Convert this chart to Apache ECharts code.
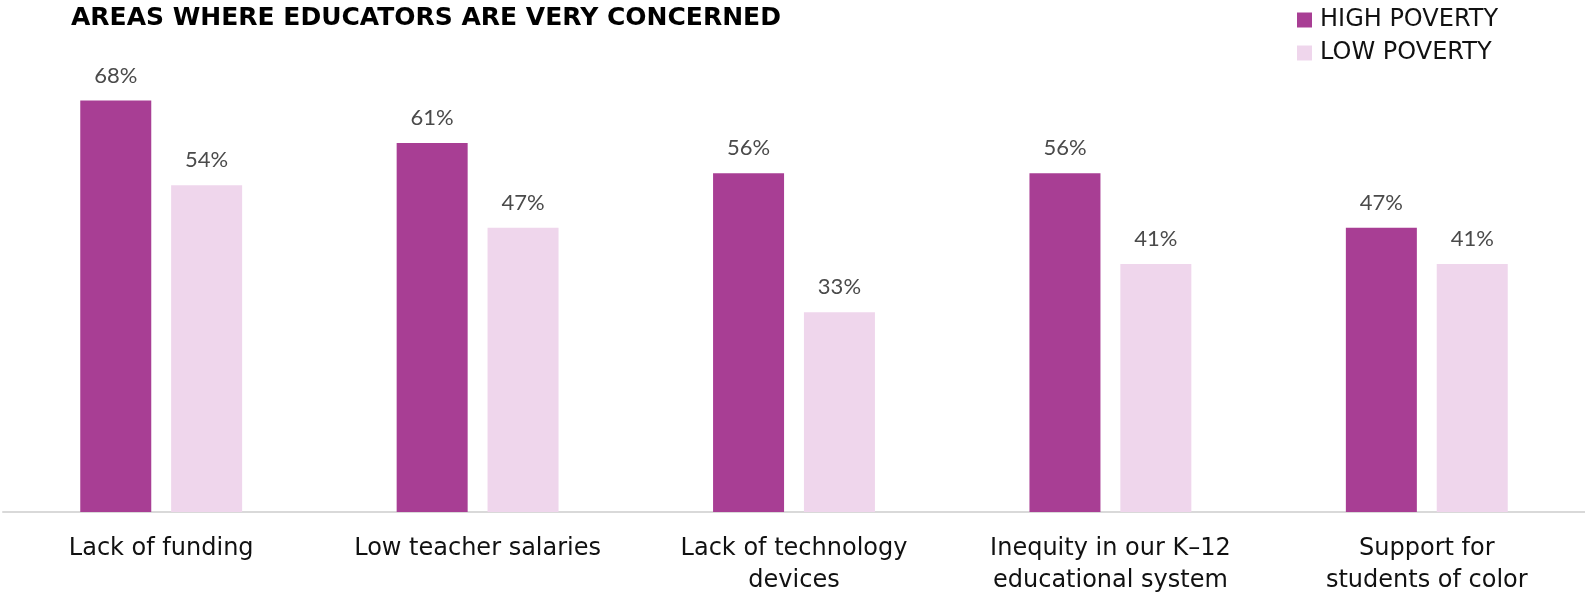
<!DOCTYPE html>
<html>
<head>
<meta charset="utf-8">
<script src="https://cdn.jsdelivr.net/npm/echarts@6/dist/echarts.min.js"></script>
<style>
  html, body { margin: 0; padding: 0; background: #fff; }
  #chart { width: 1585px; height: 597px; }
</style>
</head>
<body>
<div id="chart"></div>
<script>
// Share of educators who are very concerned, by school poverty level
const categories = [
  'Lack of funding',
  'Low teacher salaries',
  'Lack of technology\ndevices',
  'Inequity in our K\u201312\neducational system',
  'Support for\nstudents of color'
];
const highPoverty = [68, 61, 56, 56, 47];
const lowPoverty = [54, 47, 33, 41, 41];
const seriesNames = ['HIGH POVERTY', 'LOW POVERTY'];

const LABEL_FONT = 'Lato, "Open Sans", sans-serif';
const WIDE_FONT = '"DejaVu Sans", Lato, sans-serif';
const HIGH_COLOR = '#A83E94';
const LOW_COLOR = '#EFD6EC';

const chart = echarts.init(document.getElementById('chart'), null, { renderer: 'canvas' });

const valueLabel = {
  show: true,
  position: 'top',
  distance: 14,
  formatter: p => p.value + '%',
  fontFamily: LABEL_FONT,
  fontSize: 22,
  color: '#4a4a4a'
};

chart.setOption({
  animation: false,
  title: {
    text: 'AREAS WHERE EDUCATORS ARE VERY CONCERNED',
    left: 66,
    top: 1,
    textStyle: { fontFamily: WIDE_FONT, fontWeight: 'bold', fontSize: 25, color: '#000' }
  },
  legend: {
    orient: 'vertical',
    left: 1292,
    top: 3,
    itemWidth: 15,
    itemHeight: 15,
    itemGap: 9,
    icon: 'rect',
    data: seriesNames,
    textStyle: { fontFamily: WIDE_FONT, fontSize: 24, color: '#111', padding: [0, 0, 0, 3] }
  },
  grid: { left: 3, right: 0, top: 28, bottom: 82, containLabel: false },
  xAxis: {
    type: 'category',
    data: categories,
    axisLine: { show: true, lineStyle: { color: '#d9d9d9', width: 2 } },
    axisTick: { show: false },
    axisLabel: {
      interval: 0,
      margin: 21,
      fontFamily: WIDE_FONT,
      fontSize: 24,
      lineHeight: 32,
      color: '#111',
      align: 'center'
    }
  },
  yAxis: {
    type: 'value',
    min: 0,
    max: 80,
    show: false,
    splitLine: { show: false }
  },
  series: [
    {
      name: seriesNames[0],
      type: 'bar',
      data: highPoverty,
      barWidth: 71,
      barGap: '28%',
      itemStyle: { color: HIGH_COLOR },
      label: valueLabel
    },
    {
      name: seriesNames[1],
      type: 'bar',
      data: lowPoverty,
      barWidth: 71,
      barGap: '28%',
      itemStyle: { color: LOW_COLOR },
      label: valueLabel
    }
  ]
});
</script>
</body>
</html>
